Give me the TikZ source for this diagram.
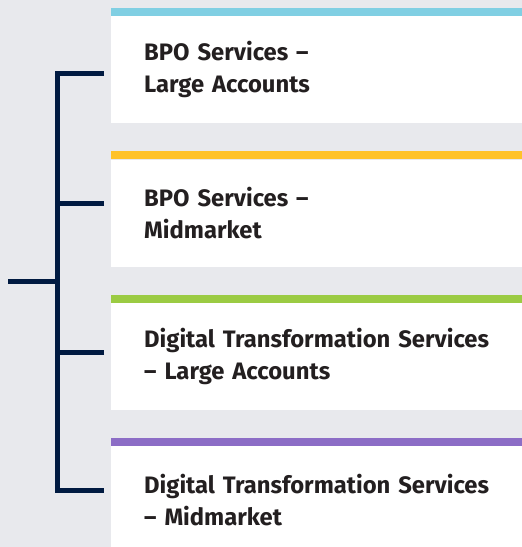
\documentclass[tikz,border=0pt]{standalone}
\usepackage{fontspec}
\setmainfont{Fira Sans}
\usetikzlibrary{positioning}
\definecolor{pagegrey}{HTML}{E8E9ED}
\definecolor{navy}{HTML}{001A41}
\definecolor{barblue}{HTML}{80CFE3}
\definecolor{baryellow}{HTML}{FFC229}
\definecolor{bargreen}{HTML}{9BCB43}
\definecolor{barpurple}{HTML}{8C6DC6}
\definecolor{textgrey}{HTML}{231F20}
\def\thickness{5pt}
\tikzset{
segment/.style={fill=white, anchor=north west, minimum height=107pt,
	text width=400pt, inner xsep=33pt, inner ysep=0pt, align=left,
	text=textgrey, font=\fontsize{23.8}{32}\selectfont\bfseries},
bracket/.style={draw=navy, line width=\thickness, line cap=butt, line join=miter},
}
\begin{document}
\begin{tikzpicture}[node distance=36pt]
\useasboundingbox (0,0) rectangle (522pt,-547pt);
\clip (0,0) rectangle (522pt,-547pt);
\fill[pagegrey] (0,0) rectangle (522pt,-547pt);

%Place the boxes
\node[segment] (bpolarge) at (111pt,-16pt) {BPO Services –\\Large Accounts};
\node[segment, below=of bpolarge] (bpomid) {BPO Services –\\Midmarket};
\node[segment, below=of bpomid] (dtslarge) {Digital Transformation Services\\– Large Accounts};
\node[segment, below=of dtslarge] (dtsmid) {Digital Transformation Services\\– Midmarket};

%Coloured bars on top
\foreach \b/\c in {bpolarge/barblue, bpomid/baryellow, dtslarge/bargreen, dtsmid/barpurple} {
	\fill[\c] ([yshift=8pt]\b.north west) rectangle (\b.north east);
}

%The bracket
\coordinate (root) at (8pt,-281pt);
\coordinate[right=49pt of root] (hub);
\foreach \b/\s in {bpolarge/57.7, bpomid/44, dtslarge/50, dtsmid/44} {
	\coordinate (\b-tip) at ([xshift=-7pt, yshift=-\s pt]\b.north west);
}
\draw[bracket] (bpolarge-tip) -| (hub) |- (dtsmid-tip);
\draw[bracket] (bpomid-tip) -- (bpomid-tip -| hub);
\draw[bracket] (dtslarge-tip) -- (dtslarge-tip -| hub);
\draw[bracket] (root) -- (hub);

\end{tikzpicture}
\end{document}
